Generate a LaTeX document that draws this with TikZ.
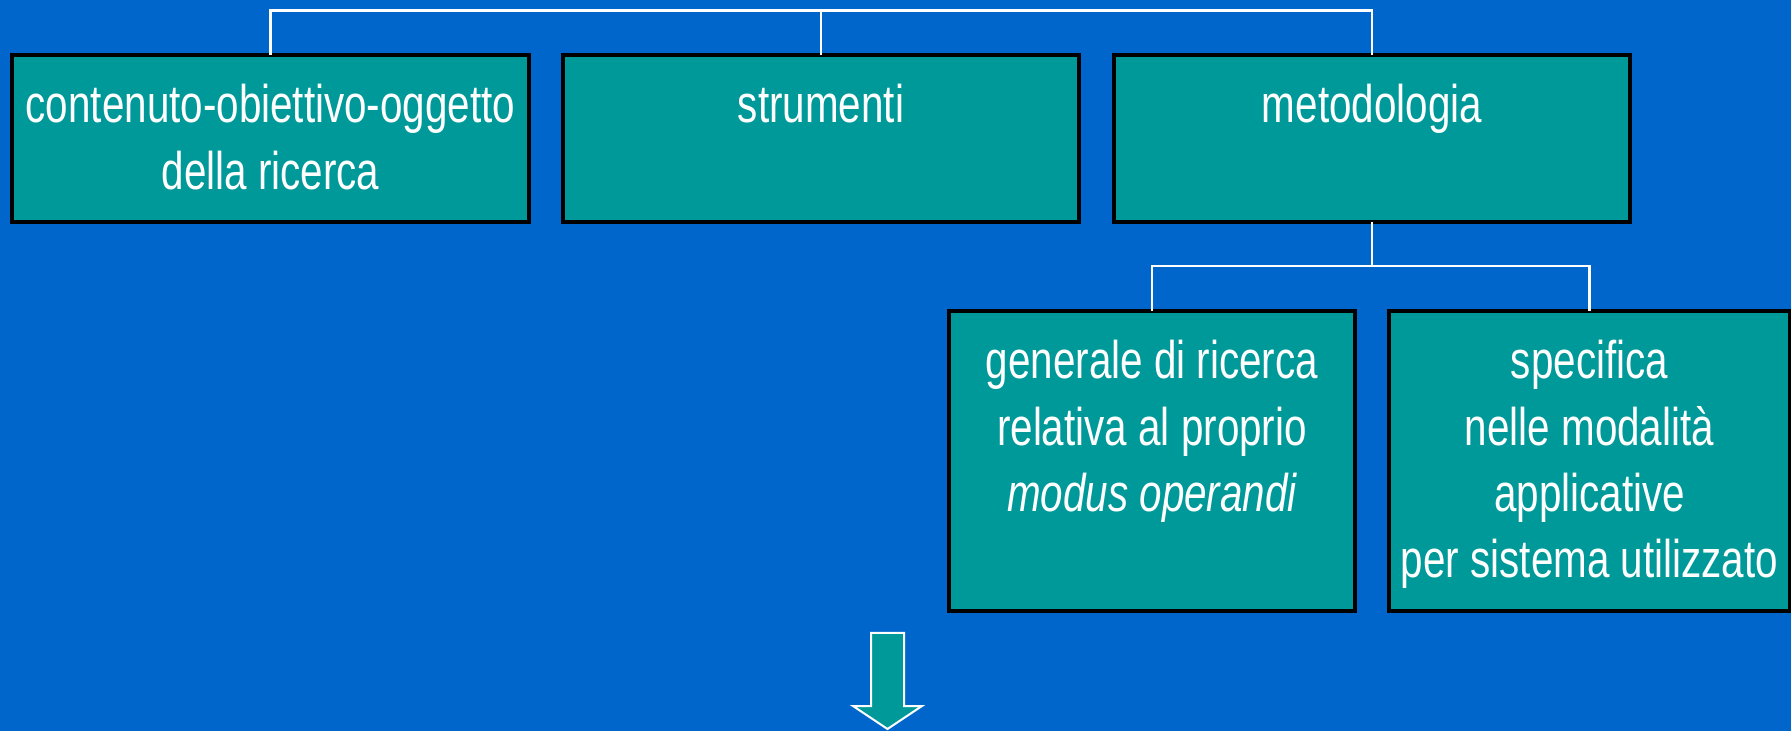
\documentclass[tikz,border=0pt]{standalone}
\usepackage{fontspec}
\setmainfont[FakeStretch=0.762]{Liberation Sans}
\definecolor{bgblue}{RGB}{0,102,204}
\definecolor{boxteal}{RGB}{0,153,153}
\newcommand{\boxtext}[3]{\parbox[c][#2][t]{#1}{\centering\fontsize{53}{66.4}\selectfont\rule{0pt}{67.7pt}#3}}
\tikzset{
  orgbox/.style={draw=black, line width=3.3pt, fill=boxteal, inner sep=0pt, outer sep=0pt, anchor=north west, text=white},
  conn/.style={draw=white, line width=2.6pt},
  bigarrow/.style={draw=white, line width=2pt, fill=boxteal, line join=miter}
}
\begin{document}
\begin{tikzpicture}[x=1pt,y=1pt]
\fill[bgblue] (0,0) rectangle (1791,731);
\useasboundingbox (0,0) rectangle (1791,731);
\node[orgbox] (b1) at (12,676) {\boxtext{517pt}{167pt}{contenuto-obiettivo-oggetto\\della ricerca}};
\node[orgbox] (b2) at (563,676) {\boxtext{516pt}{167pt}{strumenti}};
\node[orgbox] (b3) at (1114,676) {\boxtext{516pt}{167pt}{metodologia}};
\node[orgbox] (b4) at (949,420) {\boxtext{406pt}{300pt}{generale di ricerca\\relativa al proprio\\\itshape modus operandi}};
\node[orgbox] (b5) at (1389,420) {\boxtext{401pt}{300pt}{specifica\\nelle modalità\\applicative\\per sistema utilizzato}};
\coordinate (top) at (0,720.5);
\coordinate (mid) at (0,465);
\draw[conn] (b1.north) -- (b1.north |- top) -- (b3.north |- top) -- (b3.north);
\draw[conn] (b2.north) -- (b2.north |- top);
\draw[conn] (b3.south) -- (b3.south |- mid);
\draw[conn] (b4.north) -- (b4.north |- mid) -- (b5.north |- mid) -- (b5.north);
\draw[bigarrow] (871,98) -- (904,98) -- (904,25) -- (922,25) -- (887.5,2) -- (853,25) -- (871,25) -- cycle;
\end{tikzpicture}
\end{document}
